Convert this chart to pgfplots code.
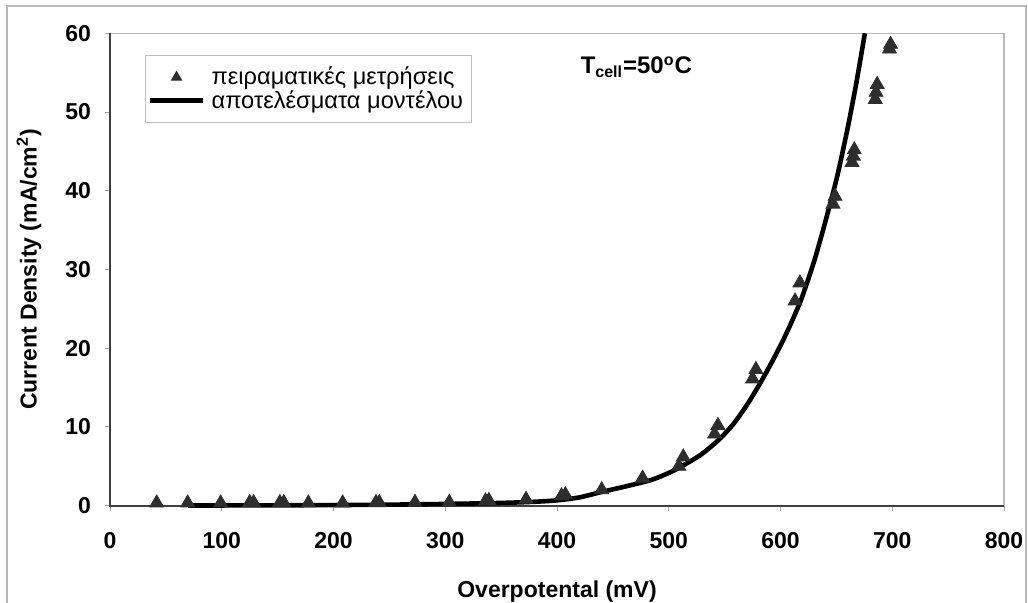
\documentclass[border=0pt]{standalone}
\usepackage{fontspec}
\setmainfont{Liberation Sans}
\usepackage{pgfplots}
\pgfplotsset{compat=1.18}
\begin{document}
\begin{tikzpicture}
\useasboundingbox (0,0) rectangle (514pt,301.5pt);
\draw[gray!55,line width=0.7pt] (3.5pt,-2pt) rectangle (513pt,298.5pt);
\begin{axis}[
  at={(55pt,48.65pt)}, anchor=south west,
  scale only axis, width=447pt, height=236.2pt,
  xmin=0, xmax=800, ymin=0, ymax=60,
  xtick={0,100,...,800}, ytick={0,10,...,60},
  xtick pos=left, ytick pos=left,
  tick align=outside, major tick length=2.5pt,
  tick style={gray!70, line width=0.5pt},
  axis line style={draw=gray!55, line width=0.6pt},
  /pgf/number format/assume math mode=true,
  ticklabel style={font=\bfseries\fontsize{11.5}{13}\selectfont},
  xticklabel style={yshift=-7.5pt},
  yticklabel style={xshift=-3.5pt},
  label style={font=\bfseries\fontsize{11.5}{13}\selectfont},
  xlabel={Overpotental (mV)},
  ylabel={Current Density (mA/cm\textsuperscript{2})},
  xlabel style={at={(axis description cs:0.5,-0.182)}, anchor=center},
  ylabel style={at={(axis description cs:-0.0906,0.5)}, anchor=center},
  clip=false,
  legend cell align=left,
  legend style={at={(rel axis cs:0.0391,0.954)}, anchor=north west,
    draw=gray!50, line width=0.5pt, fill=white,
    font=\fontsize{11.8}{13}\selectfont,
    inner xsep=1pt, inner ysep=5pt, row sep=0pt,
    nodes={inner xsep=3pt, inner ysep=0.7pt}},
]
\draw[black!75, line width=0.9pt] (rel axis cs:0,1) -- (rel axis cs:0,0) -- (rel axis cs:1,0);
\addplot[only marks, mark=triangle*, mark size=4pt,
  mark options={fill=black!82, draw=black!82},
  legend image code/.code={\path[draw=none,fill=none] (0pt,0pt) -- (26.5pt,0pt);\draw[mark size=2.9pt] plot coordinates {(13.25pt,0pt)};}]
coordinates {
(41.8,0.35) (69.5,0.35) (99,0.35) (125,0.4) (128.5,0.4) (152,0.4) (155.5,0.4) (177.5,0.35)
(208.2,0.35) (238,0.4) (241,0.4) (272.9,0.43) (303.6,0.43) (336,0.6) (339,0.66) (372.3,0.81)
(404,1.25) (407.5,1.4) (440,2.03) (476.6,3.5) (509,5.0) (513,6.2) (541,9.1) (544,10.2)
(575,16.1) (578,17.3)
(613,26.0) (617.4,28.3) (647,38.3) (648.8,39.3)
(664,43.6) (665.2,44.4) (666,45.2)
(684.8,51.6) (685.5,52.5) (686.5,53.5)
(697.5,58.0) (698.5,58.6)
};
\addlegendentry{πειραματικές μετρήσεις}
\addplot[black, line width=2.3pt, smooth, tension=0.4,
  legend image code/.code={\draw[line width=2.6pt] (0pt,0pt) -- (26.5pt,0pt);}]
coordinates {
(70,0.02) (100,0.03) (150,0.05) (200,0.08) (250,0.13) (300,0.22) (350,0.35)
(380,0.5) (400,0.68) (420,1.05) (440,1.75) (460,2.4) (485,3.3) (505,4.5)
(528,6.4) (545,8.4) (558,10.4) (570,12.8) (582,15.6) (594,18.7) (605,21.8)
(618,26.0) (630,31.0) (640,36.0) (650,41.4) (656,45.2) (661,48.6) (668,53.8)
(675.5,60)
};
\addlegendentry{αποτελέσματα μοντέλου}
\node[font=\bfseries\fontsize{12}{14}\selectfont] at (axis cs:471,55.7)
  {T\textsubscript{cell}=50\textsuperscript{o}C};
\end{axis}
\end{tikzpicture}
\end{document}
